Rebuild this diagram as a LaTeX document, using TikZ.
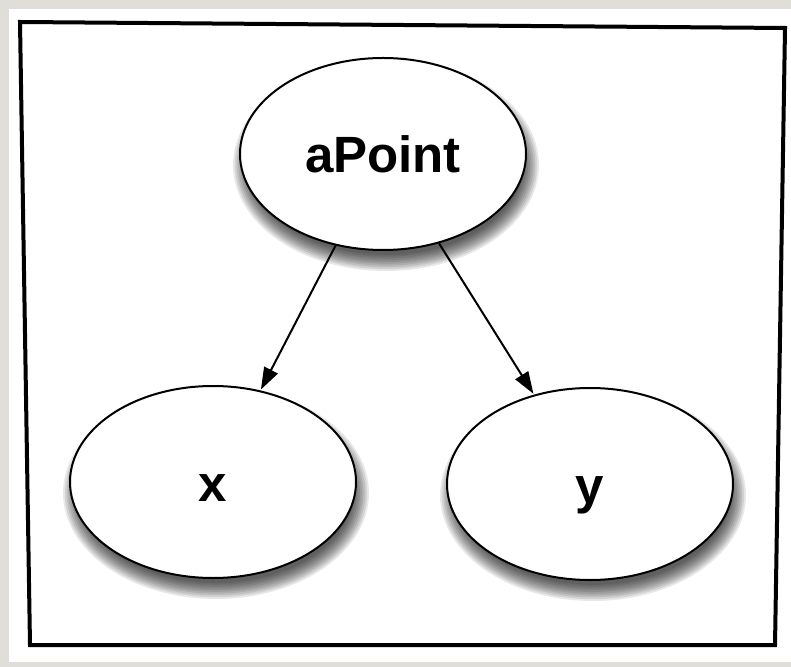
\documentclass[tikz,border=0pt]{standalone}
\usepackage{fontspec}
\setmainfont{Liberation Sans}
\usetikzlibrary{shapes.geometric,arrows.meta}
\definecolor{bggray}{RGB}{224,222,217}
\tikzset{
  obj/.style={ellipse, draw=black, line width=1pt, fill=white, inner sep=0pt,
    minimum width=143pt, minimum height=96pt, text height=19pt, text depth=0pt,
    font=\bfseries\fontsize{25.5}{28}\selectfont},
  link/.style={line width=1pt, -{Triangle[length=11pt,width=7.5pt]}, shorten >=0.5pt},
  frameline/.style={line width=2pt, black, line join=miter}
}
\newcommand{\softshadow}[2]{%
  \foreach \k in {0,...,9}{
    \fill[black, opacity=0.09] (#1,#2) ellipse ({71.5pt+5pt-\k*0.9pt} and {48pt+5pt-\k*0.9pt});
  }%
}
\begin{document}
\begin{tikzpicture}[x=0.5pt,y=-0.5pt]
  \useasboundingbox (0,0) rectangle (791,667);
  \fill[bggray] (0,0) rectangle (791,667);
  \fill[white] (9,9) rectangle (791,662);
  \draw[frameline] (20,22) -- (785,28) -- (775,645) -- (30,645) -- cycle;
  % shadows
  \softshadow{386}{165}
  \softshadow{216}{493}
  \softshadow{593}{495}
  % nodes
  \node[obj] (a) at (383,154) {aPoint};
  \node[obj] (x) at (213,482) {x};
  \node[obj] (y) at (590,484) {y};
  % connectors
  \draw[link] (a) -- (x);
  \draw[link] (a) -- (y);
\end{tikzpicture}
\end{document}
